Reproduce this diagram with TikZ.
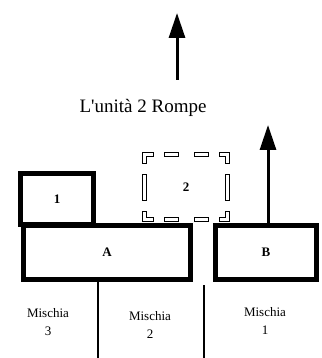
\documentclass[tikz,border=0pt]{standalone}
\usepackage{fontspec}
\setmainfont{Liberation Serif}[Ligatures=TeXOff]
\usetikzlibrary{arrows.meta,positioning}
\tikzset{
  unitbox/.style={
    rectangle, draw=black, line width=5pt, fill=none,
    inner sep=0pt, outer sep=0pt, font=\fontsize{13}{15}\selectfont\bfseries
  },
  ghostbox/.style={
    rectangle, draw=black, double=white, double distance=3.5pt, line width=1pt,
    line cap=rect,
    dash pattern=on 12.5pt off 15.5pt on 9.5pt off 20.5pt on 9.5pt off 15.5pt on 12.5pt off 15.5pt on 21.5pt off 15.5pt,
    dash phase=6.25pt,
    inner sep=0pt, outer sep=0pt, minimum width=83pt, minimum height=65pt,
    font=\fontsize{13}{15}\selectfont\bfseries
  },
  uparrow/.style={-{Triangle[length=25pt,width=16pt]}, line width=3pt, color=black},
  divider/.style={line width=2.5pt, color=black},
  zonelabel/.style={align=center, inner sep=0pt, font=\fontsize{13}{18}\selectfont},
}
\begin{document}
\begin{tikzpicture}[x=1pt,y=-1pt]
  \useasboundingbox (0,0) rectangle (321,358);
  % falling unit and its label
  \coordinate (rtail) at (177,80);
  \coordinate (rtip) at (177,13);
  \draw[uparrow] (rtail) -- (rtip);
  \node[font=\fontsize{19}{22}\selectfont] (rompe) at (143,108) {L'unità 2 Rompe};
  % units
  \node[unitbox, minimum width=73pt, minimum height=51pt] (u1) at (57,199) {1};
  \node[ghostbox] (u2) at (186,187) {2};
  \node[unitbox, minimum width=167pt, minimum height=54pt] (A) at (107,252.5) {A};
  \node[unitbox, minimum width=101pt, minimum height=54pt] (B) at (266,252.5) {B};
  \coordinate (btip) at (268,125);
  \draw[uparrow] ([xshift=2pt]B.north) -- (btip);
  % scrums
  \coordinate (d1a) at (98,281);
  \coordinate (d1b) at (98,358);
  \coordinate (d2a) at (204,285);
  \coordinate (d2b) at (204,358);
  \draw[divider] (d1a) -- (d1b);
  \draw[divider] (d2a) -- (d2b);
  \node[zonelabel] (m3) at (48,322) {Mischia\\3};
  \node[zonelabel] (m2) at (150,325) {Mischia\\2};
  \node[zonelabel] (m1) at (265,321) {Mischia\\1};
\end{tikzpicture}
\end{document}
